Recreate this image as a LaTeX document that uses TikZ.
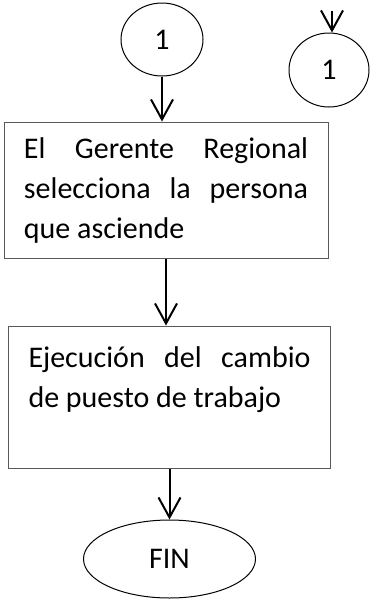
\documentclass[tikz,border=0pt]{standalone}
\usepackage{fontspec}
\setmainfont{Carlito}
\usepackage{tikz}
\usetikzlibrary{positioning, shapes, arrows.meta}

\tikzset{
  conector/.style={ellipse, draw, line width=0.5pt, inner sep=1pt},
  caja/.style={rectangle, draw=black!65, line width=0.5pt, align=justify, inner xsep=10pt},
  flecha/.style={-{Straight Barb[length=10pt, width=11pt]}, line width=1pt},
}

\begin{document}
\begin{tikzpicture}[x=0.5pt, y=-0.5pt, font=\fontsize{15}{20}\selectfont]
                \useasboundingbox (0,0) rectangle (373,601);

                \node[conector, minimum width=41pt, minimum height=36.5pt] (c1) at (162, 39.5) {1};
                \node[conector, minimum width=40pt, minimum height=37pt] (c2) at (329, 70) {1};
                \node[caja, text width=142pt, minimum height=68pt] (box1) at (166, 190)
                    {El Gerente Regional\linebreak selecciona la persona\linebreak que asciende};
                \node[caja, text width=141pt, minimum height=71pt] (box2) at (169.5, 397)
                    {Ejecución del cambio\linebreak de puesto de trabajo\par\mbox{}};
                \node[conector, minimum width=86pt, minimum height=39pt] (fin) at (169.5, 559) {FIN};
                \coordinate (entrada) at (332, 11);

                \draw[flecha] (c1.south) -- (c1.south |- box1.north);
                \draw[flecha] (box1.south) -- (box1.south |- box2.north);
                \draw[flecha] (box2.south) -- (fin.north);
                \draw[flecha] (entrada) -- (entrada |- c2.north);
            \end{tikzpicture}
\end{document}
